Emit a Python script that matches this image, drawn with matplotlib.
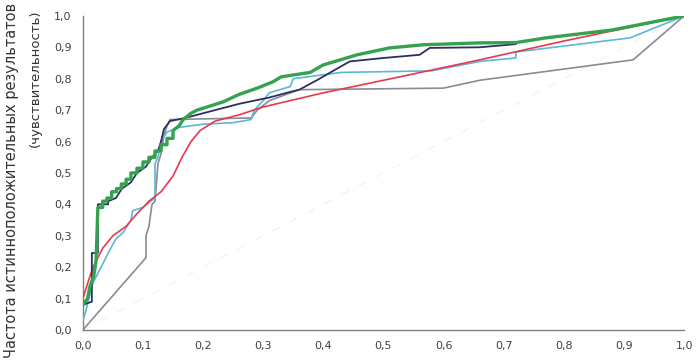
import numpy as np
import matplotlib.pyplot as plt

# ROC-кривые, значения (1 - специфичность, чувствительность)

greenX = [0, 0.008, 0.012, 0.018, 0.022, 0.025, 0.033, 0.033, 0.04, 0.04, 0.048,
          0.048, 0.056, 0.056, 0.064, 0.064, 0.072, 0.072, 0.08, 0.08, 0.09, 0.09,
          0.1, 0.1, 0.11, 0.11, 0.12, 0.12, 0.13, 0.13, 0.14, 0.14, 0.15, 0.15,
          0.16, 0.167, 0.18, 0.19, 0.21, 0.233, 0.26, 0.29, 0.316, 0.33,
          0.378, 0.4, 0.456, 0.51, 0.566, 0.66, 0.72, 0.77, 0.88, 1.0]
greenY = [0.08, 0.10, 0.14, 0.17, 0.22, 0.39, 0.39, 0.41, 0.41, 0.42, 0.42,
          0.44, 0.44, 0.45, 0.45, 0.465, 0.465, 0.48, 0.48, 0.50, 0.50, 0.515,
          0.515, 0.535, 0.535, 0.55, 0.55, 0.57, 0.57, 0.59, 0.59, 0.61, 0.61, 0.635,
          0.65, 0.67, 0.69, 0.70, 0.712, 0.726, 0.75, 0.77, 0.79, 0.806,
          0.82, 0.844, 0.876, 0.898, 0.908, 0.914, 0.915, 0.93, 0.955, 1.0]

navyX = [0, 0.015, 0.015, 0.025, 0.025, 0.042, 0.042, 0.055, 0.065, 0.08, 0.09,
         0.105, 0.115, 0.125, 0.13, 0.135, 0.145, 0.17, 0.21, 0.26, 0.31, 0.345,
         0.36, 0.39, 0.43, 0.444, 0.5, 0.56, 0.577, 0.66, 0.72]
navyY = [0.08, 0.09, 0.245, 0.245, 0.40, 0.40, 0.41, 0.42, 0.45, 0.47, 0.50,
         0.52, 0.55, 0.57, 0.60, 0.64, 0.665, 0.675, 0.695, 0.72, 0.74, 0.758,
         0.765, 0.796, 0.84, 0.855, 0.866, 0.876, 0.898, 0.90, 0.91]

cyanX = [0, 0.005, 0.01, 0.017, 0.025, 0.033, 0.045, 0.055, 0.067, 0.08, 0.083,
         0.1, 0.113, 0.12, 0.12, 0.125, 0.13, 0.14, 0.16, 0.2, 0.25, 0.28, 0.285,
         0.3, 0.31, 0.345, 0.35, 0.43, 0.58, 0.66, 0.72, 0.72, 0.91, 1.0]
cyanY = [0.03, 0.06, 0.10, 0.15, 0.18, 0.21, 0.255, 0.29, 0.31, 0.35, 0.38,
         0.39, 0.41, 0.42, 0.53, 0.55, 0.60, 0.63, 0.645, 0.655, 0.66, 0.67, 0.70,
         0.73, 0.755, 0.775, 0.80, 0.82, 0.825, 0.855, 0.866, 0.885, 0.93, 1.0]

grayX = [0, 0.105, 0.105, 0.11, 0.115, 0.12, 0.125, 0.13, 0.135, 0.14, 0.145,
         0.28, 0.29, 0.31, 0.36, 0.6, 0.66, 0.915, 1.0]
grayY = [0, 0.23, 0.30, 0.33, 0.40, 0.41, 0.53, 0.56, 0.62, 0.65, 0.67,
         0.675, 0.70, 0.73, 0.765, 0.77, 0.795, 0.86, 1.0]

redX = [0, 0.01, 0.017, 0.033, 0.05, 0.072, 0.09, 0.11, 0.13, 0.15, 0.165,
        0.18, 0.195, 0.22, 0.26, 0.3, 0.4, 0.5, 0.66, 0.8, 1.0]
redY = [0.10, 0.16, 0.20, 0.26, 0.30, 0.33, 0.37, 0.41, 0.44, 0.49, 0.55,
        0.60, 0.635, 0.665, 0.685, 0.71, 0.755, 0.795, 0.86, 0.92, 1.0]

ticks = np.arange(0, 1.01, 0.1)
tickLabels = [f"{t:.1f}".replace(".", ",") for t in ticks]

fig = plt.figure(figsize=(6.96, 3.61), dpi=100)
ax = fig.add_axes([0.119, 0.086, 0.864, 0.870])

# диагональ (едва заметная)
ax.plot([0, 1], [0, 1], color="#f3f3f3", lw=1, ls=(0, (6, 8)), zorder=1)

ax.plot(grayX, grayY, color="#8a8a98", lw=1.2, zorder=2)
ax.plot(cyanX, cyanY, color="#5bb8d4", lw=1.2, zorder=3)
ax.plot(redX, redY, color="#e8394f", lw=1.2, zorder=4)
ax.plot(navyX, navyY, color="#2b3062", lw=1.3, zorder=5)
ax.plot(greenX, greenY, color="#35a24f", lw=2.4, zorder=6)

ax.set_xlim(0, 1)
ax.set_ylim(0, 1)
ax.set_xticks(ticks)
ax.set_yticks(ticks)
ax.set_xticklabels(tickLabels, fontsize=8, color="#404040")
ax.set_yticklabels(tickLabels, fontsize=8, color="#404040")
ax.tick_params(length=0, pad=8)

for s in ["top", "right"]:
    ax.spines[s].set_visible(False)
for s in ["left", "bottom"]:
    ax.spines[s].set_color("#808080")
    ax.spines[s].set_linewidth(1)

fig.text(12/696, 1 - 358/361, "Частота истинноположительных результатов",
         rotation=90, ha="center", va="bottom", fontsize=10.5, color="#333333")
fig.text(35/696, 1 - 78/361, "(чувствительность)",
         rotation=90, ha="center", va="center", fontsize=9.5, color="#333333")

fig.savefig("out.png", dpi=100)
